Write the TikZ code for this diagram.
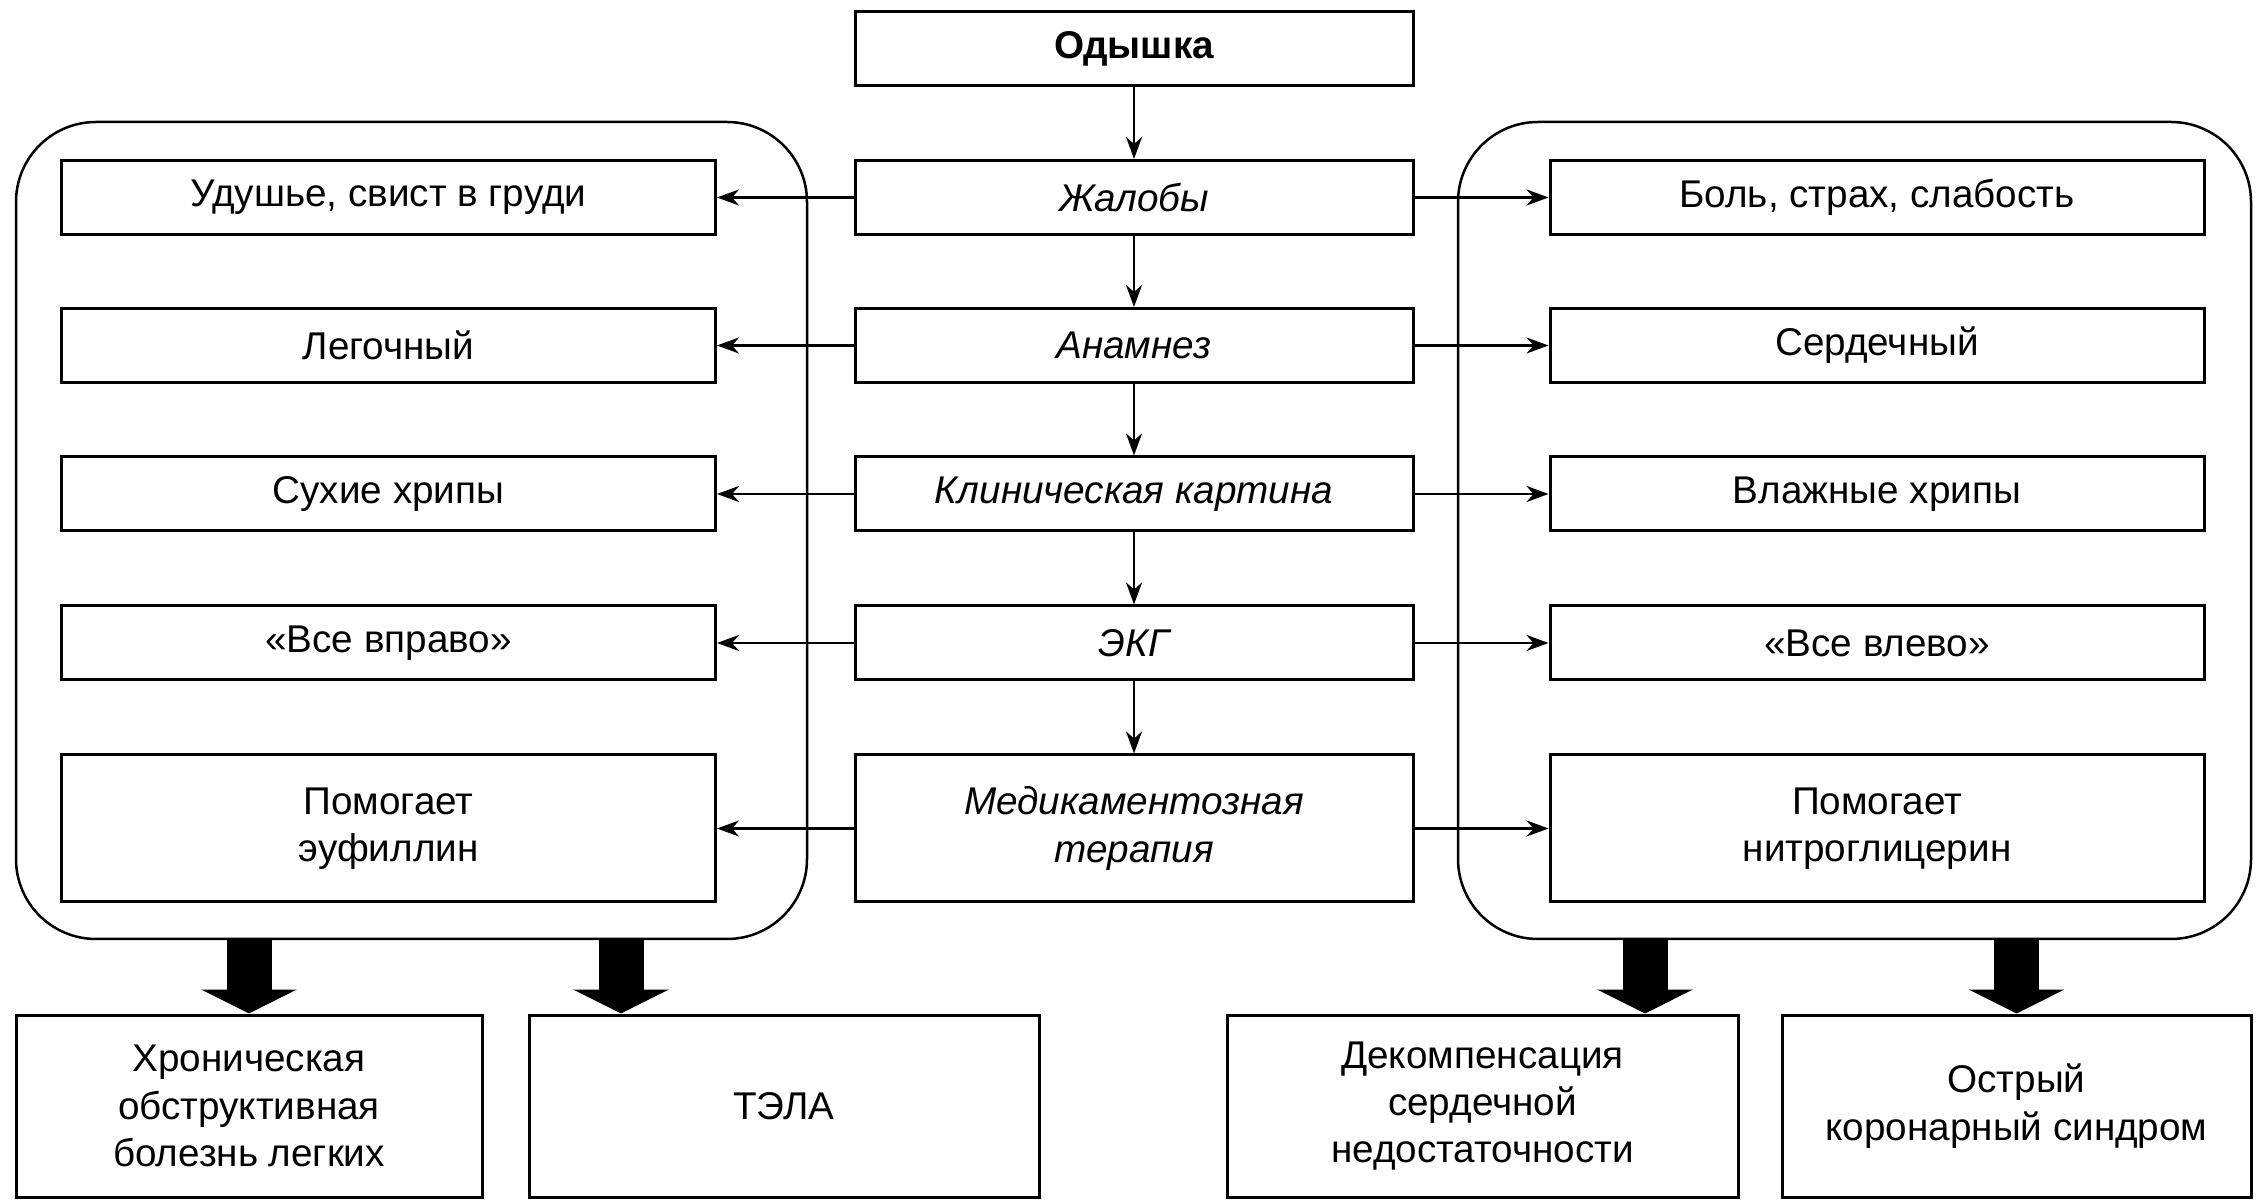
\documentclass[tikz,border=0pt]{standalone}
\usepackage{fontspec}
\setmainfont{Liberation Sans}
\usetikzlibrary{arrows.meta}

\begin{document}
\begin{tikzpicture}[x=0.1mm,y=-0.1mm,
	every node/.style={draw,line width=0.3mm,align=center,inner sep=0pt,
		font=\fontsize{11}{13.5}\selectfont},
	mid/.style={minimum width=55.8mm,minimum height=7.4mm,
		font=\fontsize{11}{13.5}\selectfont\itshape},
	side/.style={minimum width=65.4mm,minimum height=7.4mm},
	grp/.style={rounded corners=8mm,minimum height=81.7mm,line width=0.25mm},
	res/.style={minimum height=18.2mm},
	link/.style={line width=0.25mm,-{Stealth[length=2.2mm,width=1.6mm,inset=0.7mm]}},
	fat/.style={line width=4.5mm,-{Triangle[width=9.5mm,length=2.4mm]}}]
\useasboundingbox (0,0) rectangle (2259,1201);

%frames
\node[grp,minimum width=79.1mm] (leftgrp) at (411.5,530.5){};
\node[grp,minimum width=79.3mm] (rightgrp) at (1854.5,530.5){};

%centre column
\node[mid,font=\fontsize{11}{13.5}\selectfont\bfseries] (odyshka) at (1134,49){Одышка};
\node[mid] (jaloby) at (1134,197.5){Жалобы};
\node[mid] (anamnez) at (1134,345.5){Анамнез};
\node[mid] (klin) at (1134,494){Клиническая картина};
\node[mid] (ekg) at (1134,643){ЭКГ};
\node[mid,minimum height=14.7mm] (terap) at (1134,828.5){Медикаментозная\\терапия};

%left column
\node[side] (udush) at (388.5,197.5){Удушье, свист в груди};
\node[side] (legoch) at (388.5,345.5){Легочный};
\node[side] (suhie) at (388.5,494){Сухие хрипы};
\node[side] (vpravo) at (388.5,643){«Все вправо»};
\node[side,minimum height=14.7mm] (eufil) at (388.5,828.5){Помогает\\эуфиллин};

%right column
\node[side] (bol) at (1877,197.5){Боль, страх, слабость};
\node[side] (serd) at (1877,345.5){Сердечный};
\node[side] (vlazh) at (1877,494){Влажные хрипы};
\node[side] (vlevo) at (1877,643){«Все влево»};
\node[side,minimum height=14.7mm] (nitro) at (1877,828.5){Помогает\\нитроглицерин};

%results
\node[res,minimum width=46.6mm] (hobl) at (249,1106){Хроническая\\обструктивная\\болезнь легких};
\node[res,minimum width=51mm] (tela) at (784,1106){ТЭЛА};
\node[res,minimum width=51.1mm] (dekomp) at (1482.5,1106){Декомпенсация\\сердечной\\недостаточности};
\node[res,minimum width=46.9mm] (oks) at (2016.5,1106){Острый\\коронарный синдром};

\coordinate (a2) at (621,0);
\coordinate (a3) at (1645,0);

\begin{scope}
%vertical arrows
\draw[link] (odyshka) -- (jaloby);
\draw[link] (jaloby) -- (anamnez);
\draw[link] (anamnez) -- (klin);
\draw[link] (klin) -- (ekg);
\draw[link] (ekg) -- (terap);
%to the left
\draw[link] (jaloby) -- (udush);
\draw[link] (anamnez) -- (legoch);
\draw[link] (klin) -- (suhie);
\draw[link] (ekg) -- (vpravo);
\draw[link] (terap) -- (eufil);
%to the right
\draw[link] (jaloby) -- (bol);
\draw[link] (anamnez) -- (serd);
\draw[link] (klin) -- (vlazh);
\draw[link] (ekg) -- (vlevo);
\draw[link] (terap) -- (nitro);
%thick arrows
\draw[fat] (leftgrp.south -| hobl.north) -- (hobl.north);
\draw[fat] (leftgrp.south -| a2) -- (a2 |- tela.north);
\draw[fat] (rightgrp.south -| a3) -- (a3 |- dekomp.north);
\draw[fat] (rightgrp.south -| oks.north) -- (oks.north);
\end{scope}
\end{tikzpicture}
\end{document}
